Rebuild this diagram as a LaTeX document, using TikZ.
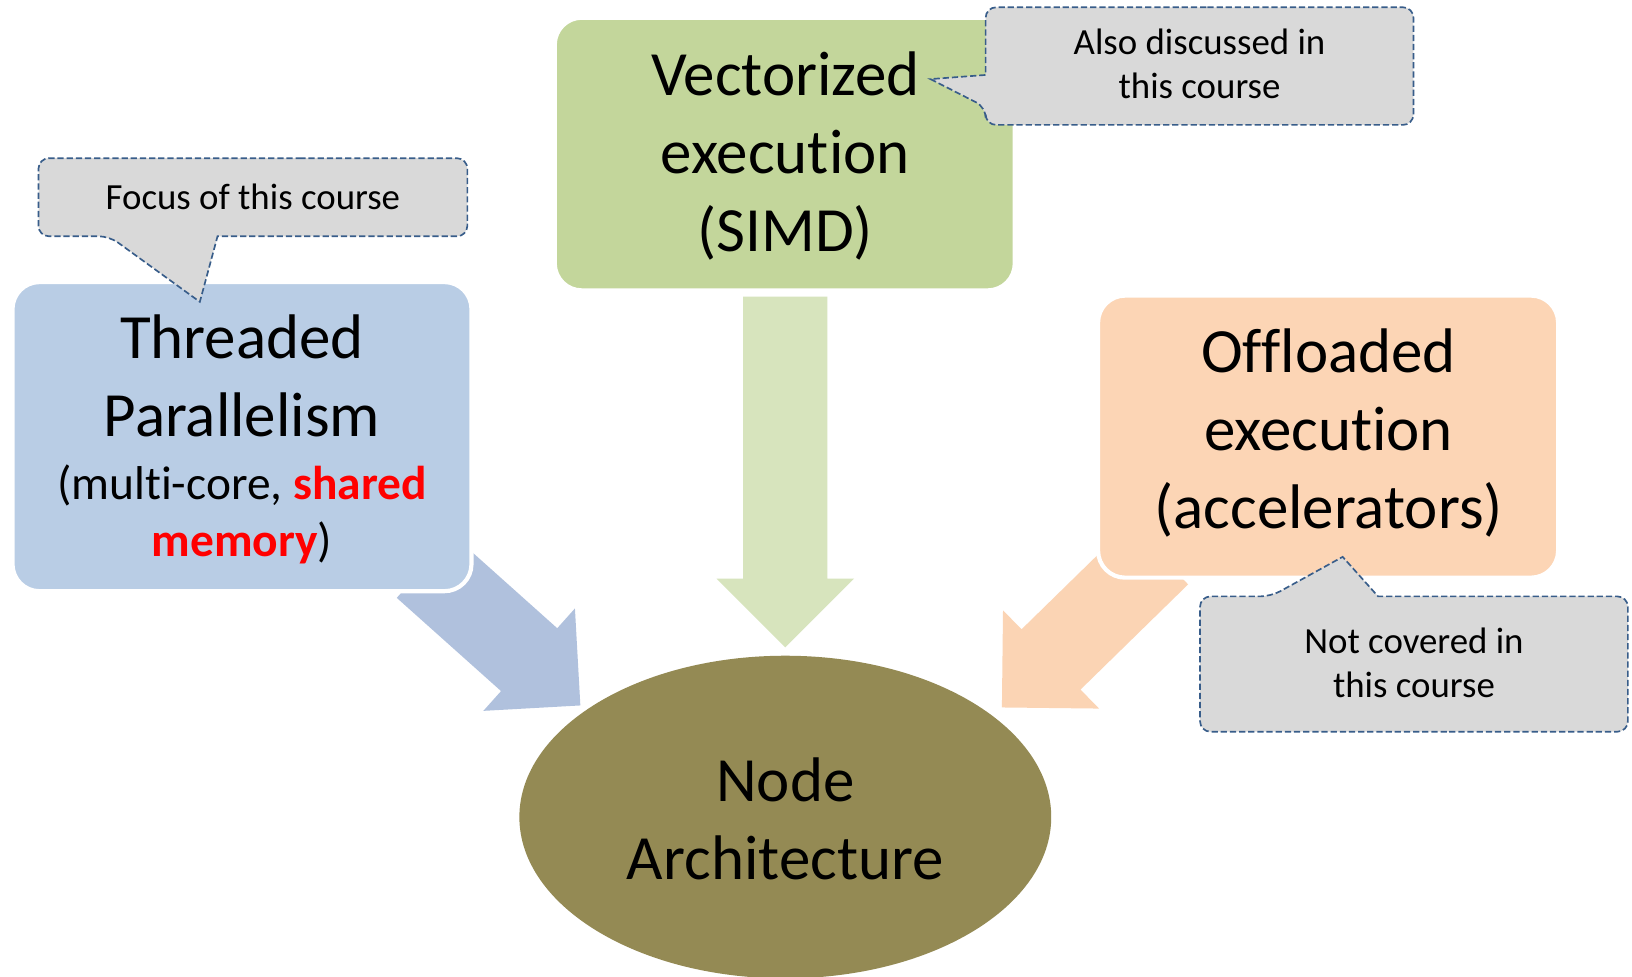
\documentclass[tikz,border=0pt]{standalone}
\usepackage{fontspec}
\setmainfont{Carlito}[Ligatures={NoCommon,NoContextual}]
\usetikzlibrary{shapes.geometric}

\definecolor{thrFill}{HTML}{B9CDE5}
\definecolor{thrArrow}{HTML}{B0C1DD}
\definecolor{simdFill}{HTML}{C3D69B}
\definecolor{simdArrow}{HTML}{D7E4BD}
\definecolor{offFill}{HTML}{FCD5B5}
\definecolor{offArrow}{HTML}{FBD4B4}
\definecolor{archFill}{HTML}{948A54}
\definecolor{noteFill}{HTML}{D9D9D9}
\definecolor{noteLine}{HTML}{385D8A}
\definecolor{hot}{HTML}{FF0000}

% block arrow: fill colour, start coordinate, direction angle, shaft length
\newcommand\blockarrow[4]{%
  \fill[#1, shift={(#2)}, rotate=#3]
    (0,-40.5) -- (#4,-40.5) -- (#4,-66) -- ({#4+66},0)
    -- (#4,66) -- (#4,40.5) -- (0,40.5) -- cycle;}

\begin{document}
\begin{tikzpicture}[x=0.5pt, y=-0.5pt,
  box/.style={rectangle, rounded corners=13pt, draw=white, line width=2pt, inner sep=0pt},
  big/.style={font=\fontsize{30.25}{37.5}\selectfont, text width=300pt, align=flush center, anchor=base, inner sep=0pt},
  mid/.style={font=\fontsize{22.8}{27.7}\selectfont, text width=300pt, align=flush center, anchor=base, inner sep=0pt},
  small/.style={font=\fontsize{17.7}{21.3}\selectfont, text width=220pt, align=flush center, anchor=base, inner sep=0pt},
  note/.style={fill=noteFill, draw=noteLine, line width=0.8pt, dash pattern=on 3pt off 1.4pt},
]
\fill[white] (0,0) rectangle (1568,938);
\useasboundingbox (0,0) rectangle (1568,938);

% arrow start points
\coordinate (thrA) at (408.2,544.2);
\coordinate (simdA) at (754.5,285);
\coordinate (offA) at (1113.2,532.5);

\blockarrow{thrArrow}{thrA}{-41.8}{134.4}
\blockarrow{simdArrow}{simdA}{-90}{271}
\blockarrow{offArrow}{offA}{224.35}{144.6}

% the three execution models and the node
\node[box, fill=thrFill, minimum width=220.5pt, minimum height=148.5pt] (thr) at (232.5,419.5) {};
\node[box, fill=simdFill, minimum width=221pt, minimum height=131pt] (simd) at (754,148) {};
\node[box, fill=offFill, minimum width=221pt, minimum height=135.5pt] (off) at (1276,419.5) {};
\node[ellipse, fill=archFill, minimum width=255.5pt, minimum height=155pt, inner sep=0pt] (arch) at (754.5,785) {};

\node[big] (thrT) at (232.5,344) {Threaded\\Parallelism};
\node[mid] (thrS) at (232.5,479.6) {(multi-core, \textcolor{hot}{\bfseries shared}\\\textcolor{hot}{\bfseries memory})};
\node[big] (simdT) at (754.5,92) {Vectorized\\execution\\(SIMD)};
\node[big] (offT) at (1276.5,358) {Offloaded\\execution\\(accelerators)};
\node[big] (archT) at (754.5,770) {Node\\Architecture};

% callouts
\path[note] (300,152) [rounded corners=5pt] -- (37,152) -- (37,227) -- (105,227)
  [sharp corners] -- (192,290) -- (209,227)
  [rounded corners=5pt] -- (449,227) -- (449,152) -- cycle;
\node[small] (focusT) at (243,200.8) {Focus of this course};

\path[note] (1150,7) [rounded corners=5pt] -- (1358,7) -- (1358,120) -- (947,120) -- (947,103)
  [sharp corners] -- (894,76) -- (947,72)
  [rounded corners=5pt] -- (947,7) -- cycle;
\node[small] (alsoT) at (1152.5,52) {Also discussed in\\this course};

\path[note] (1400,703) [rounded corners=5pt] -- (1153,703) -- (1153,573) -- (1221,573)
  [sharp corners] -- (1290,535) -- (1324,573)
  [rounded corners=5pt] -- (1564,573) -- (1564,703) -- cycle;
\node[small] (notT) at (1358.5,627.6) {Not covered in\\this course};
\end{tikzpicture}
\end{document}
